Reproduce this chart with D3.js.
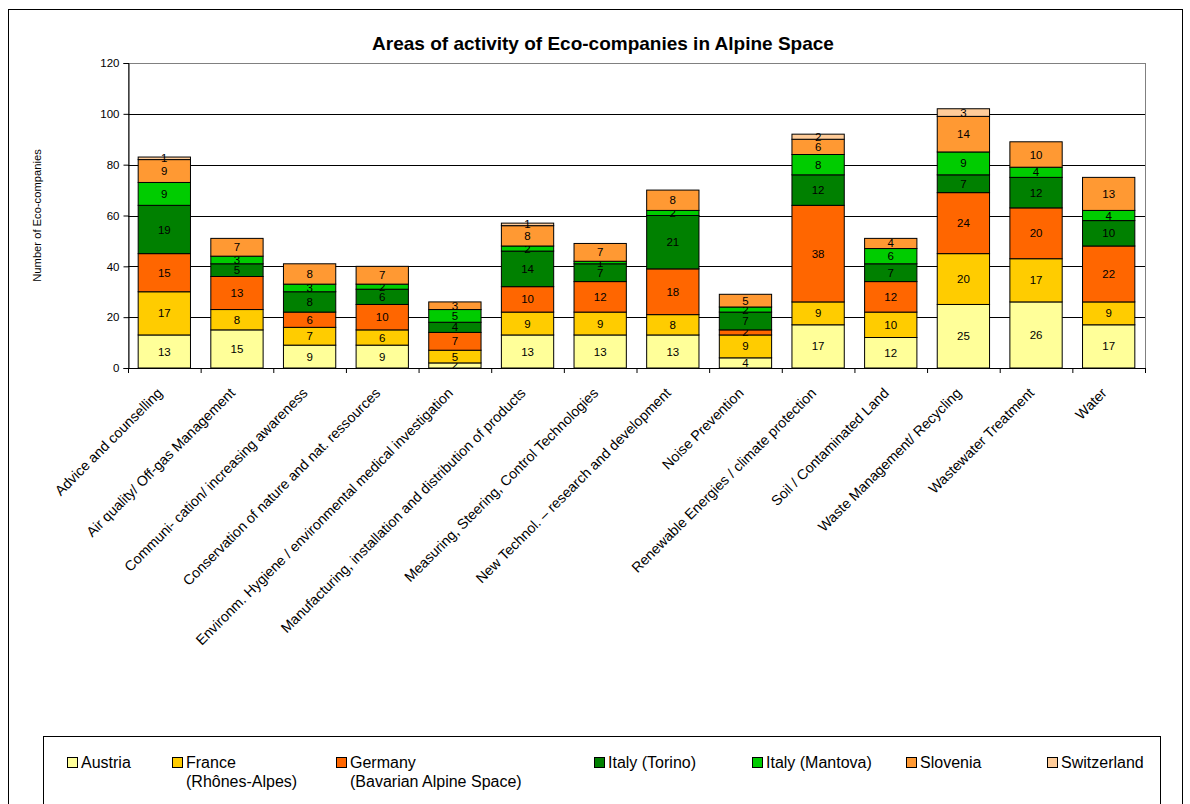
<!DOCTYPE html>
<html>
<head>
<meta charset="utf-8">
<script src="https://cdn.jsdelivr.net/npm/d3@7"></script>
<style>
  body { margin: 0; background: #fff; }
  text { font-family: "Liberation Sans", Arial, sans-serif; }
</style>
</head>
<body>
<div id="chart"></div>
<script>
// categories
const categories = [
  "Advice and counselling",
  "Air quality/ Off-gas Management",
  "Communi- cation/ increasing awareness",
  "Conservation of nature and nat. ressources",
  "Environm. Hygiene / environmental medical investigation",
  "Manufacturing, installation and distribution of products",
  "Measuring, Steering, Control Technologies",
  "New Technol. \u2013 research and development",
  "Noise Prevention",
  "Renewable Energies / climate protection",
  "Soil / Contaminated Land",
  "Waste Management/ Recycling",
  "Wastewater Treatment",
  "Water"
];

// series values (one per category)
const austria     = [13, 15, 9, 9, 2, 13, 13, 13, 4, 17, 12, 25, 26, 17];
const france      = [17, 8, 7, 6, 5, 9, 9, 8, 9, 9, 10, 20, 17, 9];
const germany     = [15, 13, 6, 10, 7, 10, 12, 18, 2, 38, 12, 24, 20, 22];
const italyTorino = [19, 5, 8, 6, 4, 14, 7, 21, 7, 12, 7, 7, 12, 10];
const italyMantova= [9, 3, 3, 2, 5, 2, 1, 2, 2, 8, 6, 9, 4, 4];
const slovenia    = [9, 7, 8, 7, 3, 8, 7, 8, 5, 6, 4, 14, 10, 13];
const switzerland = [1, 0, 0, 0, 0, 1, 0, 0, 0, 2, 0, 3, 0, 0];

const seriesNames = ["Austria", "France\n(Rhônes-Alpes)", "Germany\n(Bavarian Alpine Space)",
  "Italy (Torino)", "Italy (Mantova)", "Slovenia", "Switzerland"];
const seriesColors = ["#FFFF99", "#FFCC00", "#FF6600", "#008000", "#00CC00", "#FF9933", "#FFCC99"];
const seriesValues = [austria, france, germany, italyTorino, italyMantova, slovenia, switzerland];

const yTicks = [0, 20, 40, 60, 80, 100, 120];

const width = 1190, height = 804;
const margin = { top: 63, left: 128, right: 45, bottom: 436 };

const svg = d3.select("#chart").append("svg")
  .attr("width", width)
  .attr("height", height);

// outer chart frame
svg.append("rect")
  .attr("x", 8.5).attr("y", 9.5)
  .attr("width", 1174).attr("height", 820)
  .attr("fill", "none").attr("stroke", "#000").attr("stroke-width", 1);

const x = d3.scaleBand()
  .domain(categories)
  .range([margin.left, width - margin.right])
  .paddingInner(0.28)
  .paddingOuter(0.14);

const y = d3.scaleLinear()
  .domain([0, 120])
  .range([height - margin.bottom, margin.top]);

// stack table built from the series arrays
const keys = seriesNames;
const table = categories.map((c, i) => {
  const row = { cat: c };
  keys.forEach((k, j) => row[k] = seriesValues[j][i]);
  return row;
});
const stacked = d3.stack().keys(keys)(table);

// plot area border
svg.append("rect")
  .attr("x", margin.left + 0.5).attr("y", y(120) + 0.5)
  .attr("width", width - margin.right - margin.left).attr("height", y(0) - y(120))
  .attr("fill", "none").attr("stroke", "#808080");

// gridlines
svg.append("g")
  .selectAll("line")
  .data(yTicks.filter(d => d > 0 && d < 120))
  .join("line")
  .attr("x1", margin.left).attr("x2", width - margin.right)
  .attr("y1", d => Math.round(y(d)) + 0.5).attr("y2", d => Math.round(y(d)) + 0.5)
  .attr("stroke", "#000");

// bars
const color = d3.scaleOrdinal().domain(keys).range(seriesColors);
const layers = svg.append("g")
  .selectAll("g")
  .data(stacked)
  .join("g")
  .attr("fill", d => color(d.key));

layers.selectAll("rect")
  .data(d => d.filter(s => s[1] - s[0] > 0))
  .join("rect")
  .attr("x", d => x(d.data.cat))
  .attr("y", d => y(d[1]))
  .attr("width", x.bandwidth())
  .attr("height", d => y(d[0]) - y(d[1]))
  .attr("stroke", "#000")
  .attr("stroke-width", 1);

// segment labels
layers.selectAll("text")
  .data(d => d.filter(s => s[1] - s[0] > 0))
  .join("text")
  .attr("x", d => x(d.data.cat) + x.bandwidth() / 2)
  .attr("y", d => (y(d[0]) + y(d[1])) / 2)
  .attr("dy", "0.35em")
  .attr("text-anchor", "middle")
  .attr("fill", "#000")
  .attr("font-size", 11.5)
  .text(d => d[1] - d[0]);

// y axis
const yAxis = svg.append("g")
  .attr("transform", `translate(${margin.left + 0.5},0)`)
  .call(d3.axisLeft(y).tickValues(yTicks).tickSize(5).tickPadding(4));
yAxis.selectAll("text").attr("font-size", 11.5).attr("font-family", "Liberation Sans, Arial, sans-serif");
yAxis.select(".domain").attr("stroke", "#000");

// x axis
const xTickPos = d3.range(categories.length + 1).map(i => margin.left + i * x.step() + 0.5);
svg.append("g")
  .selectAll("line")
  .data(xTickPos)
  .join("line")
  .attr("x1", d => d).attr("x2", d => d)
  .attr("y1", y(0)).attr("y2", y(0) + 5)
  .attr("stroke", "#000");
svg.append("line")
  .attr("x1", margin.left).attr("x2", width - margin.right)
  .attr("y1", y(0) + 0.5).attr("y2", y(0) + 0.5)
  .attr("stroke", "#000");

svg.append("g")
  .selectAll("text")
  .data(categories)
  .join("text")
  .attr("transform", d => `translate(${x(d) + x.bandwidth() / 2 - 1},${y(0) + 26}) rotate(-45)`)
  .attr("text-anchor", "end")
  .attr("font-size", 14.2)
  .text(d => d);

// title
svg.append("text")
  .attr("x", 603).attr("y", 50)
  .attr("text-anchor", "middle")
  .attr("font-size", 19)
  .attr("font-weight", "bold")
  .text("Areas of activity of Eco-companies in Alpine Space");

// y label
svg.append("text")
  .attr("transform", `translate(41,${(y(0) + y(120)) / 2}) rotate(-90)`)
  .attr("text-anchor", "middle")
  .attr("font-size", 11.2)
  .text("Number of Eco-companies");

// legend
svg.append("rect")
  .attr("x", 43.5).attr("y", 736.5)
  .attr("width", 1117).attr("height", 100)
  .attr("fill", "#fff").attr("stroke", "#000");

const legendX = [67, 172, 336, 594, 752, 906, 1047];
const legend = svg.append("g")
  .selectAll("g")
  .data(keys)
  .join("g")
  .attr("transform", (d, i) => `translate(${legendX[i]},757)`);

legend.append("rect")
  .attr("x", 0.5).attr("y", 0.5)
  .attr("width", 10).attr("height", 10)
  .attr("fill", d => color(d))
  .attr("stroke", "#000");

legend.append("text")
  .attr("x", 14).attr("y", 11)
  .attr("font-size", 16)
  .selectAll("tspan")
  .data(d => d.split("\n"))
  .join("tspan")
  .attr("x", 14)
  .attr("dy", (d, i) => i === 0 ? 0 : 19)
  .text(d => d);
</script>
</body>
</html>
